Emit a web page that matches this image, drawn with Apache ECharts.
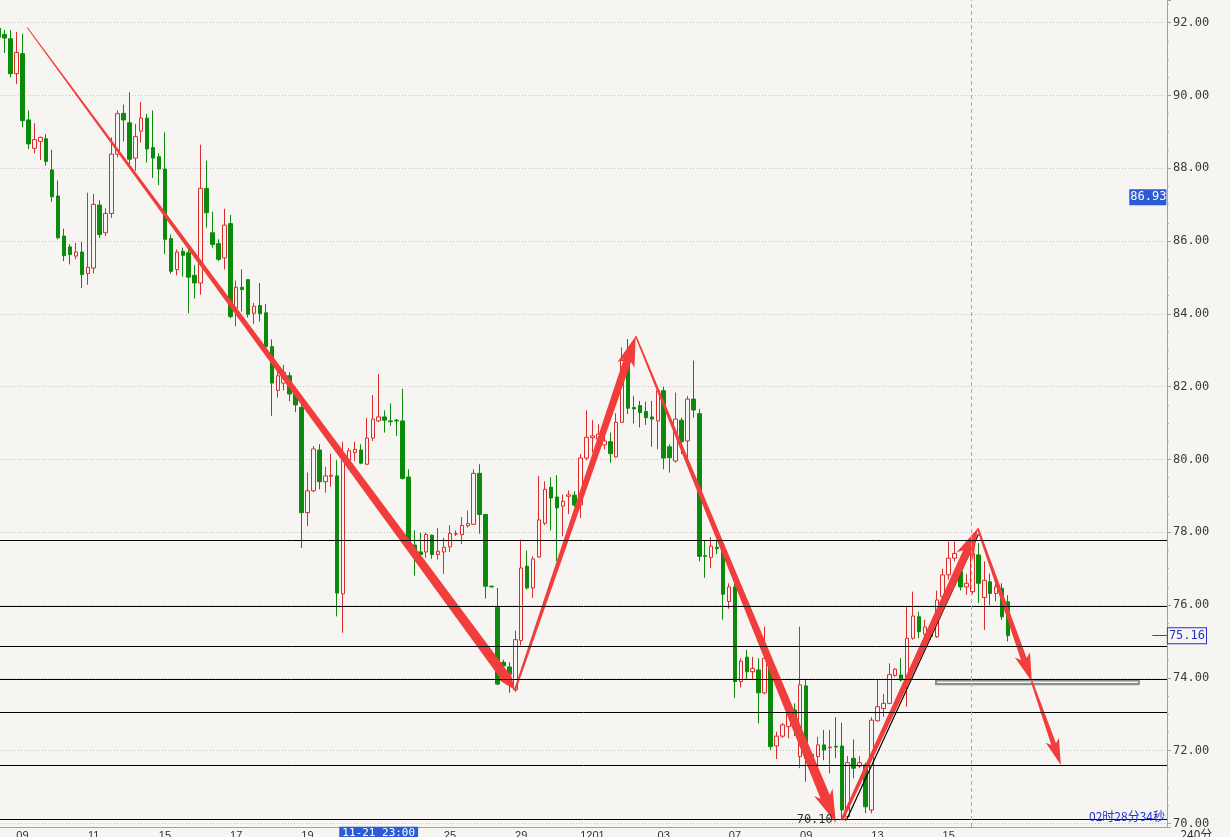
<!DOCTYPE html>
<html><head><meta charset="utf-8">
<script src="https://cdn.jsdelivr.net/npm/echarts@6/dist/echarts.min.js"></script>
<style>html,body{margin:0;padding:0;background:#f7f5f1;overflow:hidden;} #c{width:1230px;height:837px;}</style>
</head><body><div id="c"></div>
<script>
// ---- candles: [open, high, low, close], one per 4h bar ----
const ohlc = [
[91.85,91.90,91.55,91.60],[91.68,91.80,91.17,91.58],[91.56,91.80,90.50,90.60],[90.60,91.75,90.32,91.18],
[91.15,91.70,89.13,89.31],[89.33,89.59,88.53,88.67],[88.55,89.24,88.41,88.79],[88.74,88.87,88.23,88.85],
[88.81,88.94,88.07,88.19],[87.96,88.51,87.08,87.22],[87.24,87.67,86.05,86.09],[86.14,86.34,85.45,85.60],
[85.84,85.91,85.36,85.63],[85.59,85.95,85.50,85.70],[85.70,85.98,84.71,85.08],[85.11,87.33,84.80,85.28],
[85.26,87.30,85.11,87.01],[86.99,87.12,86.09,86.18],[86.23,86.90,86.14,86.76],[86.76,88.85,86.64,88.39],
[88.39,89.59,88.30,89.50],[89.51,89.75,88.74,89.33],[89.25,90.09,87.98,88.25],[88.28,89.22,87.93,88.87],
[89.02,89.82,88.71,89.38],[89.38,89.50,88.16,88.53],[88.57,89.59,87.73,88.28],[88.32,88.41,87.54,87.98],
[87.98,88.99,85.65,86.05],[86.07,86.18,85.10,85.17],[85.22,85.77,85.06,85.70],[85.72,85.82,85.03,85.61],
[85.68,85.77,84.02,85.01],[85.06,85.34,84.42,84.85],[84.85,88.65,84.53,87.45],[87.45,88.21,86.37,86.78],
[86.23,86.81,85.82,85.91],[85.93,86.05,85.45,85.50],[85.54,86.89,85.22,86.44],[86.48,86.72,83.88,83.93],
[84.16,84.92,83.66,84.73],[84.73,85.22,84.07,84.67],[84.94,84.95,83.90,83.99],[84.02,84.30,83.72,84.21],
[84.23,84.85,83.79,84.01],[84.03,84.27,82.95,83.10],[83.10,83.30,81.20,82.10],[81.90,82.50,81.70,82.30],
[82.10,82.60,81.90,82.40],[82.30,82.40,81.60,81.80],[81.90,82.00,81.30,81.50],[81.43,81.77,77.57,78.54],
[78.54,79.64,78.17,79.14],[79.14,80.37,79.10,80.29],[80.26,80.42,79.18,79.39],[79.39,79.80,79.09,79.55],
[79.54,80.16,79.25,79.57],[79.55,79.98,75.69,76.33],[76.31,80.49,75.24,79.98],[79.98,80.31,79.87,80.24],
[80.19,80.49,79.96,80.28],[80.26,80.42,79.87,79.90],[79.87,81.14,79.85,80.59],[80.59,81.77,80.51,81.11],
[81.06,82.35,81.03,81.17],[81.17,81.35,80.74,81.08],[81.06,81.54,80.92,81.04],[81.08,81.11,80.65,81.06],
[81.06,81.94,79.45,79.48],[79.52,79.73,77.65,77.71],[77.65,78.05,76.81,77.37],[77.46,77.99,77.30,77.39],
[77.46,77.99,77.30,77.94],[77.92,77.94,77.27,77.39],[77.39,78.12,77.25,77.48],[77.46,77.85,76.86,77.59],
[77.60,78.19,77.46,77.97],[77.95,78.05,77.90,77.96],[77.94,78.42,77.68,78.19],[78.18,78.60,78.13,78.24],
[78.22,79.73,78.22,79.62],[79.62,79.87,77.96,78.49],[78.49,78.49,76.18,76.52],[76.52,76.53,76.49,76.50],
[75.94,76.47,73.80,73.83],[74.43,74.50,74.08,74.33],[74.30,74.43,73.59,74.10],[73.67,75.30,73.61,75.05],
[75.03,77.80,74.89,77.02],[77.07,77.50,76.43,76.47],[76.47,77.34,76.20,77.27],[77.32,79.55,77.30,78.34],
[78.25,79.40,78.20,79.18],[79.24,79.51,78.05,78.94],[78.97,79.57,77.21,78.67],[78.72,79.04,77.89,78.85],
[78.99,79.15,78.50,79.03],[79.02,79.13,78.70,78.75],[78.75,80.15,78.39,80.04],[80.04,81.35,79.98,80.61],
[80.60,81.08,80.19,80.65],[80.56,80.97,80.19,80.70],[80.40,80.70,80.28,80.51],[80.49,80.74,79.91,80.16],
[80.07,81.27,80.05,81.02],[81.02,83.08,81.00,82.72],[82.99,83.31,81.25,81.41],[81.43,81.75,80.99,81.39],
[81.48,81.61,80.88,81.29],[81.32,81.59,80.95,81.15],[81.17,81.61,80.35,81.11],[81.06,82.00,80.28,81.89],
[81.89,82.00,79.73,80.04],[80.35,80.42,79.64,80.05],[79.96,81.84,79.91,81.11],[81.08,81.15,80.15,80.49],
[80.51,81.75,80.01,81.66],[81.66,82.72,81.15,81.36],[81.26,81.39,77.20,77.34],[77.36,77.76,76.75,77.34],
[77.31,77.87,77.02,77.62],[77.59,77.76,77.40,77.55],[77.55,77.70,75.60,76.30],[76.10,76.60,75.90,76.50],
[76.50,76.60,73.45,73.90],[73.90,74.54,73.74,74.46],[74.57,74.77,73.94,74.17],[74.17,74.58,73.94,74.26],
[74.22,74.54,72.75,73.59],[73.59,75.41,73.55,74.54],[74.31,74.40,72.02,72.11],[72.13,72.52,71.77,72.40],
[72.40,72.77,72.35,72.71],[72.66,73.25,72.34,73.03],[73.12,73.30,72.40,72.66],[71.84,75.41,71.52,73.81],
[73.78,73.94,71.15,71.79],[71.90,71.97,71.74,71.85],[71.84,72.38,71.56,72.16],[72.16,72.57,71.74,72.02],
[72.08,72.57,71.38,72.10],[72.12,72.92,71.80,72.10],[72.13,72.77,70.10,70.37],[70.19,71.85,70.15,71.67],
[71.79,72.31,71.24,71.52],[71.58,71.85,71.52,71.67],[71.61,71.67,70.28,70.46],[70.37,72.92,70.28,72.84],
[72.82,73.94,72.80,73.21],[73.16,73.56,72.93,73.30],[73.30,74.40,73.28,74.09],[74.07,74.27,74.03,74.24],
[74.08,74.54,73.90,73.94],[73.99,75.96,73.21,75.09],[75.09,76.37,75.05,75.70],[75.68,75.82,75.09,75.27],
[75.20,75.60,75.10,75.40],[75.18,75.30,75.05,75.14],[75.13,76.40,75.10,76.14],[76.24,77.00,76.10,76.83],
[76.83,77.75,76.70,77.29],[77.29,77.75,77.20,77.42],[76.92,77.15,76.40,76.50],[76.50,76.85,76.28,76.60],
[76.37,77.90,76.30,77.42],[77.38,77.70,76.06,76.60],[76.21,77.20,75.32,76.68],[76.64,76.87,76.00,76.32],
[76.32,76.65,76.10,76.50],[76.46,76.60,75.60,75.68],[76.09,76.27,75.00,75.16]
];
// x-axis tick labels (bar index -> text)
const tickIdx = [4,16,28,40,52,64,76,88,100,112,124,136,148,160];
const tickLabels = ['09','11','15','17','19','21','25','29','1201','03','07','09','13','15'];
// horizontal retracement levels
const levels = [77.79, 75.98, 74.87, 73.96, 73.06, 71.61, 70.12];
// hand-drawn arrows: [fromBar, fromPrice, toBar, toPrice]
const arrows = [
[4.8, 91.87, 86.96, 73.67],
[86.96, 73.67, 107.3, 83.39],
[107.3, 83.39, 141.0, 70.02],
[142.0, 70.09, 164.9, 78.11],
[164.9, 78.11, 174.0, 73.90],
[174.0, 73.90, 178.9, 71.61]
];
// thin black trend line
const trendLine = [[142.8, 70.10], [165.0, 77.95]];
// grey support bar: [fromBar, topPrice, toBar, bottomPrice]
const supportBar = [157.7, 73.96, 192.2, 73.80];
const lastPrice = 75.16;
const crossX = 64, crossXLabel = '11-21 23:00';
const crossY = 86.93;
const lowIdx = 142, lowPrice = 70.10;
const dividerIdx = 163.8;
const countdown = '02时28分34秒';
const periodLabel = '240分';

// ---- styles ----
const BG = '#f7f5f1';
const UP = '#dc2b2b', DOWN = '#0b8a0b', ARROW = '#f23d3d', BLUE = '#2c5bd3';
const arrowShape = [ // [startWidth, endWidth, headWidth, headLength]
[1, 10, 15, 16],[2, 8, 18, 26],[1.5, 10, 20, 28],[3, 8, 18, 26],[2, 6, 16, 24],[2, 5, 14, 22]
];
const X_MIN = 0.219, X_MAX = 196.77, Y_MIN = 69.904, Y_MAX = 92.624;
const MONO = 'DejaVu Sans Mono';

function renderArrow(params, api) {
  const s = api.coord([api.value(0), api.value(1)]);
  const e = api.coord([api.value(2), api.value(3)]);
  const [w0, w1, hw, hl] = arrowShape[params.dataIndex];
  const dx = e[0]-s[0], dy = e[1]-s[1], len = Math.hypot(dx, dy);
  const ux = dx/len, uy = dy/len, nx = -uy, ny = ux;
  const b = [e[0]-ux*hl, e[1]-uy*hl];
  const notch = hl*0.18;
  const bb = [b[0]-ux*notch, b[1]-uy*notch];
  const P = (p, w) => [p[0]+nx*w/2, p[1]+ny*w/2];
  const pts = [P(s,w0), P(b,w1), P(bb,hw), e, P(bb,-hw), P(b,-w1), P(s,-w0)];
  return {type:'polygon', shape:{points:pts}, style:{fill:ARROW}};
}
function renderBar(params, api) {
  const a = api.coord([api.value(0), api.value(1)]);
  const b = api.coord([api.value(2), api.value(3)]);
  const w = b[0]-a[0], h = b[1]-a[1];
  return {type:'group', children:[
    {type:'rect', shape:{x:a[0], y:a[1], width:w, height:h}, style:{fill:'#8c8c8c'}},
    {type:'rect', shape:{x:a[0]+2, y:a[1]+h/2-0.8, width:w-4, height:1.6}, style:{fill:'#f4f4f4'}}
  ]};
}

const chart = echarts.init(document.getElementById('c'), null, {renderer:'canvas'});
chart.setOption({
  backgroundColor: BG,
  animation: false,
  grid: {left:0, top:0, right:63, bottom:10, containLabel:false, outerBoundsMode:'none'},
  xAxis: {
    type:'value', min:X_MIN, max:X_MAX,
    splitLine:{show:false}, axisTick:{show:false},
    axisLine:{show:true, lineStyle:{color:'#a0a0a0'}},
    axisLabel:{customValues: tickIdx, formatter: v => { const k = tickIdx.indexOf(v); return k >= 0 ? tickLabels[k] : ''; },
      color:'#333', fontSize:11, fontFamily:'Liberation Sans', margin:3}
  },
  yAxis: {
    type:'value', position:'right', min:Y_MIN, max:Y_MAX, splitNumber:11,
    axisLine:{show:true, lineStyle:{color:'#a0a0a0'}},
    axisTick:{show:true, length:4, lineStyle:{color:'#a0a0a0'}},
    minorTick:{show:true, splitNumber:4, length:2, lineStyle:{color:'#b4b4b4'}},
    splitLine:{show:true, showMinLine:false, showMaxLine:false, lineStyle:{color:'#c4c4c4', type:[1,2]}},
    axisLabel:{formatter: v => v.toFixed(2), showMinLabel:false, showMaxLabel:false,
      color:'#3a3a3a', fontFamily:MONO, fontSize:12, margin:6}
  },
  series: [
    { name:'levels', type:'line', data:[], z:1, silent:true,
      markLine:{ silent:true, symbol:['none','none'], animation:false,
        lineStyle:{color:'#000', width:1, type:'solid'}, label:{show:false},
        data: levels.map((v,k) => k === levels.length-1
          ? {yAxis:v, label:{show:true, position:'insideEndTop', formatter:countdown, color:'#1f33d6',
              fontSize:12, fontFamily:'Noto Sans CJK SC', distance:[2,-3]}}
          : {yAxis:v}).concat([{xAxis:dividerIdx, lineStyle:{color:'#ababab', width:1, type:[4,3]}}])
      }
    },
    { name:'candles', type:'candlestick', z:2,
      data: ohlc.map((r,i) => [i, r[0], r[3], r[2], r[1]]),
      encode:{x:0, y:[1,2,3,4]},
      barWidth:4,
      itemStyle:{color:BG, color0:DOWN, borderColor:UP, borderColor0:DOWN, borderWidth:1}
    },
    { name:'trend', type:'line', z:3, data:trendLine, symbol:'none', silent:true,
      lineStyle:{color:'#000', width:1.2} },
    { name:'bar', type:'custom', z:3, data:[supportBar], renderItem:renderBar, silent:true,
      encode:{x:[0,2], y:[1,3]} },
    { name:'arrows', type:'custom', z:4, data:arrows, renderItem:renderArrow, silent:true,
      encode:{x:[0,2], y:[1,3]} },
    { name:'marks', type:'line', data:[], z:6, silent:true,
      markPoint:{ symbol:'circle', symbolSize:1, itemStyle:{color:'rgba(0,0,0,0)'}, animation:false,
        data:[
          {coord:[crossX, Y_MIN+0.05], label:{show:true, position:'bottom', distance:1, formatter:crossXLabel,
            backgroundColor:BLUE, color:'#fff', fontFamily:MONO, fontSize:11, padding:[1,3,1,3]}},
          {coord:[X_MAX-0.02, crossY], label:{show:true, position:'left', distance:0, offset:[0,-10], formatter:crossY.toFixed(2),
            backgroundColor:BLUE, color:'#fff', fontFamily:MONO, fontSize:12, padding:[2,0,2,1]}},
          {coord:[lowIdx+1, lowPrice], label:{show:true, position:'left', distance:0, formatter:lowPrice.toFixed(2)+' →',
            color:'#333', fontFamily:MONO, fontSize:12}},
          {coord:[X_MAX-0.02, Y_MIN+0.05], label:{show:true, position:'right', distance:13, offset:[0,9], formatter:periodLabel,
            color:'#333', fontFamily:'Noto Sans CJK SC', fontSize:12}}
        ]},
      markLine:{ symbol:['none','none'], animation:false,
        lineStyle:{color:'#3344cc', width:1, type:'solid'},
        label:{show:true, position:'end', distance:1, formatter:lastPrice.toFixed(2), color:'#2233cc',
          borderColor:'#2233cc', borderWidth:1, padding:[2,1,1,1], fontFamily:MONO, fontSize:12, backgroundColor:BG},
        data:[[{coord:[194.3, lastPrice]}, {coord:[X_MAX-0.02, lastPrice]}]]
      }
    }
  ]
});
</script></body></html>
